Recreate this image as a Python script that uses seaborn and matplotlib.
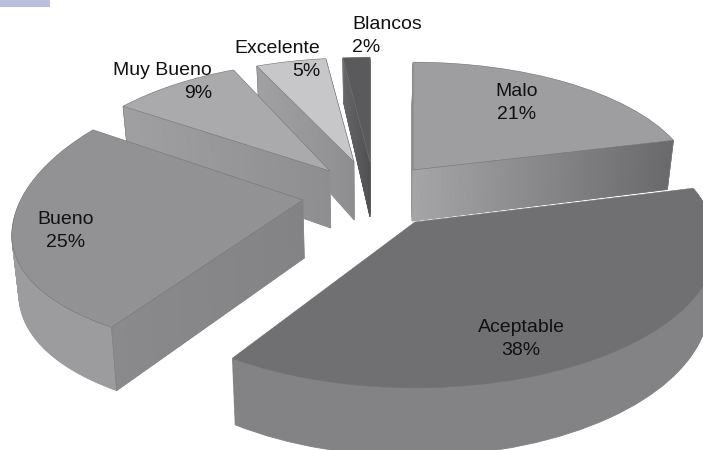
import numpy as np
import matplotlib
matplotlib.use("Agg")
import matplotlib.pyplot as plt
from matplotlib.patches import Rectangle
from matplotlib.transforms import Transform
import seaborn as sns

# Data
categories = ["Malo", "Aceptable", "Bueno", "Muy Bueno", "Excelente", "Blancos"]
percentages = [21, 38, 25, 9, 5, 2]

# Layout of the exploded, tilted slices (pixels)
apex_x = [413, 415, 303, 330, 354, 370]
apex_y = [170, 222, 200, 171, 162, 162]
radius_x = [279, 298, 282, 278, 280, 270]
radius_y = [124, 141, 138, 137, 130, 131]
persp_x = [0.15, 0.15, 0.25, 0.25, 0.25, 0.25]
persp_y = [0.15, 0.15, 0.10, 0.25, 0.25, 0.25]
depth = [51, 58, 58, 57, 58, 55]
draw_order = [5, 4, 3, 0, 2, 1]

# Styles
top_grey = [158, 112, 146, 170, 199, 90]
wall_grey = [150, 131, 156, 150, 155, 100]
cut_apex_grey = [165, 120, 131, 142, 142, 80]
cut_rim_grey = [105, 120, 138, 160, 162, 102]
label_x = [517, 521, 66, 212, 320, 352]
label_y = [103, 339, 231, 82, 60, 36]
label_ha = ["center", "center", "center", "right", "right", "left"]

LEVELS = 60
VANISH_X = 370
CONVERGE = 0.02


def grey(level):
    return (level / 255, level / 255, (level + 2) / 255)


class TiltedPlane(Transform):
    input_dims = 2
    output_dims = 2
    is_separable = False
    has_inverse = False

    def __init__(self, i, z):
        super().__init__()
        self.i, self.z = i, z

    def transform_non_affine(self, values):
        values = np.asarray(values, dtype=float)
        i, z = self.i, self.z
        u, v = values[:, 0], values[:, 1]
        wx = 1 / (1 + persp_x[i] * v)
        wy = 1 / (1 + persp_y[i] * v)
        x = apex_x[i] + radius_x[i] * u * wx
        y = apex_y[i] - radius_y[i] * v * wy + z * depth[i] * wy
        x = x - z * CONVERGE * (x - VANISH_X)
        return np.column_stack([x, y])


sns.set_theme(style="white")
plt.rcParams["font.family"] = ["Liberation Sans", "DejaVu Sans"]

fig = plt.figure(figsize=(7.03, 4.5), dpi=100)
ax = fig.add_axes([0, 0, 1, 1])

rank = {slice_i: r for r, slice_i in enumerate(draw_order)}

# extruded walls: the same pie repeated from bottom to top
for lev in range(LEVELS + 1):
    z = 1 - lev / LEVELS
    wedges, _ = ax.pie(percentages, startangle=90, counterclock=False, radius=1)
    for i, wedge in enumerate(wedges):
        wedge.set_transform(TiltedPlane(i, z) + ax.transData)
        wedge.set_zorder(10 * rank[i] + 1 + 0.001 * lev)
        if lev == LEVELS:
            wedge.set_facecolor(grey(top_grey[i]))
            wedge.set_edgecolor((0.46, 0.46, 0.47))
            wedge.set_linewidth(0.4)
            wedge.set_zorder(10 * rank[i] + 3)
        else:
            wedge.set_facecolor(grey(wall_grey[i]))
            wedge.set_edgecolor(grey(wall_grey[i]))
            wedge.set_linewidth(0.6)

# cut faces turned towards the viewer
bounds = 90 - 3.6 * np.cumsum([0] + percentages)
for i in range(len(percentages)):
    a1, a2 = np.radians(bounds[i]), np.radians(bounds[i + 1])
    if np.cos(a1) < -1e-6:
        angle = a1
    elif np.cos(a2) > 1e-6:
        angle = a2
    else:
        continue
    ends = np.array([[0.0, 0.0], [np.cos(angle), np.sin(angle)]])
    top_ends = TiltedPlane(i, 0).transform_non_affine(ends)
    bot_ends = TiltedPlane(i, 1).transform_non_affine(ends)
    ts = np.linspace(0, 1, 61)
    for t0, t1 in zip(ts[:-1], ts[1:]):
        p0 = top_ends[0] + (top_ends[1] - top_ends[0]) * t0
        p1 = top_ends[0] + (top_ends[1] - top_ends[0]) * t1
        q0 = bot_ends[0] + (bot_ends[1] - bot_ends[0]) * t0
        q1 = bot_ends[0] + (bot_ends[1] - bot_ends[0]) * t1
        level = cut_apex_grey[i] + (cut_rim_grey[i] - cut_apex_grey[i]) * t0
        c = grey(level)
        ax.fill([p0[0], p1[0], q1[0], q0[0]], [p0[1], p1[1], q1[1], q0[1]],
                facecolor=c, edgecolor=c, linewidth=0.4,
                zorder=10 * rank[i] + 2)
    ax.plot([top_ends[1, 0], bot_ends[1, 0]], [top_ends[1, 1], bot_ends[1, 1]],
            color=(0.5, 0.5, 0.51), lw=0.4, zorder=10 * rank[i] + 2.5)

for i, (name, val) in enumerate(zip(categories, percentages)):
    ax.text(label_x[i], label_y[i], f"{name}\n{val}%", ha=label_ha[i], va="center",
            multialignment=label_ha[i], fontsize=14, color="#111111",
            linespacing=1.52, zorder=200)

ax.set_xlim(0, 703)
ax.set_ylim(450, 0)
ax.set_aspect("auto")
ax.axis("off")

fig.patches.append(Rectangle((0, 1 - 7 / 450), 50 / 703, 7 / 450, transform=fig.transFigure,
                             facecolor="#b9bfdd", edgecolor="none", figure=fig))

fig.savefig("out.png", dpi=100, facecolor="white")
